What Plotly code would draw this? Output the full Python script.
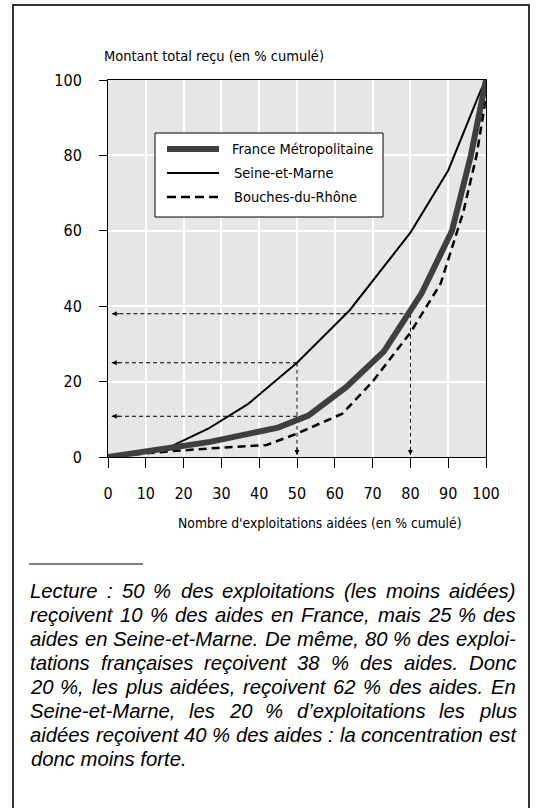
import plotly.graph_objects as go

# ---------------- data ----------------
x_france = [0, 16, 27, 45, 53, 63, 73, 83, 91, 96, 100]
y_france = [0, 2.5, 4, 7.8, 11, 18.5, 28, 43.5, 60, 80, 100]

x_seine = [0, 16, 26.5, 37, 50, 64, 80, 90, 98.5, 100]
y_seine = [0, 2.5, 7.5, 14, 25, 39, 59.5, 76, 97, 100]

x_bdr = [0, 16, 29, 42, 50, 62, 70, 80, 88, 94, 97.5, 99.6, 100]
y_bdr = [0, 1.5, 2.4, 3.2, 6.2, 11.5, 20, 33, 46, 65, 80, 93, 100]

guide_x = [50, 50, 80]
guide_y = [25, 10.8, 38]

series_names = ["France Métropolitaine", "Seine-et-Marne", "Bouches-du-Rhône"]
x_ticks = [0, 10, 20, 30, 40, 50, 60, 70, 80, 90, 100]
y_ticks = [0, 20, 40, 60, 80, 100]

y_title = "Montant total reçu (en % cumulé)"
x_title = "Nombre d'exploitations aidées (en % cumulé)"
caption_lines = [
    "Lecture : 50 % des exploitations (les moins aidées)",
    "reçoivent 10 % des aides en France, mais 25 % des",
    "aides en Seine-et-Marne. De même, 80 % des exploi-",
    "tations françaises reçoivent 38 % des aides. Donc",
    "20 %, les plus aidées, reçoivent 62 % des aides. En",
    "Seine-et-Marne, les 20 % d’exploitations les plus",
    "aidées reçoivent 40 % des aides : la concentration est",
    "donc moins forte.",
]

# ---------------- layout geometry ----------------
W, H = 547, 808
L, Rpx, T, Bpx = 108, 486, 80, 457

def px2x(p):
    return (p - L) / (Rpx - L)

def py2y(p):
    return (Bpx - p) / (Bpx - T)

NARROW = "DejaVu Sans Condensed, Liberation Sans Narrow, Arial Narrow, sans-serif"
ITALIC = "Liberation Sans, Arial, sans-serif"
FR_COLOR = "#3f3f3f"
TITLE_SIZE = 14.5
XTITLE_SIZE = 13.8
TICK_SIZE = 16
CAP_SIZE = 20.3
CAP_LEFT, CAP_RIGHT = 29, 515

# Arial / Liberation Sans advance widths (per 1000 em) for justification
ARIAL_W = {
    " ": 278, "a": 556, "b": 556, "c": 500, "d": 556, "e": 556, "f": 278, "g": 556,
    "h": 556, "i": 222, "j": 222, "k": 500, "l": 222, "m": 833, "n": 556, "o": 556,
    "p": 556, "q": 556, "r": 333, "s": 500, "t": 278, "u": 556, "v": 500, "w": 722,
    "x": 500, "y": 500, "z": 500, "L": 556, "D": 722, "E": 667, "F": 611, "M": 833,
    "S": 667, "%": 889, ":": 278, ".": 278, ",": 278, "-": 333, "’": 222, "(": 333,
    ")": 333, "é": 556, "ê": 556, "ç": 500,
}

def text_w(s, size):
    return sum(ARIAL_W.get(c, 556) for c in s) * size / 1000.0

fig = go.Figure()

# reading guides (dashed)
for gx, gy in zip(guide_x, guide_y):
    fig.add_trace(go.Scatter(x=[gx, 1], y=[gy, gy], mode="lines",
                             line=dict(color="black", width=1, dash="4px,3px"),
                             showlegend=False, hoverinfo="skip"))
for gx, gy in zip([guide_x[0], guide_x[2]], [guide_y[0], guide_y[2]]):
    fig.add_trace(go.Scatter(x=[gx, gx], y=[gy, 0.5], mode="lines",
                             line=dict(color="black", width=1, dash="4px,3px"),
                             showlegend=False, hoverinfo="skip"))

fig.add_trace(go.Scatter(x=x_bdr, y=y_bdr, mode="lines", name=series_names[2],
                         line=dict(color="black", width=2.5, dash="8px,5px"),
                         showlegend=False))
fig.add_trace(go.Scatter(x=x_seine, y=y_seine, mode="lines", name=series_names[1],
                         line=dict(color="black", width=2),
                         showlegend=False))
fig.add_trace(go.Scatter(x=x_france, y=y_france, mode="lines", name=series_names[0],
                         line=dict(color=FR_COLOR, width=6),
                         showlegend=False))

annotations = []
# arrowheads
for gy in guide_y:
    annotations.append(dict(x=1, y=gy, xref="x", yref="y", ax=9, ay=0, text="",
                            showarrow=True, arrowhead=2, arrowsize=1, arrowwidth=1,
                            arrowcolor="black"))
for gx in [guide_x[0], guide_x[2]]:
    annotations.append(dict(x=gx, y=0.5, xref="x", yref="y", ax=0, ay=-9, text="",
                            showarrow=True, arrowhead=2, arrowsize=1, arrowwidth=1,
                            arrowcolor="black"))

annotations.append(dict(text=y_title, x=px2x(102), y=py2y(56), xref="paper", yref="paper",
                        xanchor="left", yanchor="middle", showarrow=False,
                        font=dict(family=NARROW, size=TITLE_SIZE, color="black")))
annotations.append(dict(text=x_title, x=px2x(464), y=py2y(523), xref="paper", yref="paper",
                        xanchor="right", yanchor="middle", showarrow=False,
                        font=dict(family=NARROW, size=XTITLE_SIZE, color="black")))

# caption, justified like the original
for i, line in enumerate(caption_lines):
    ypos = py2y(591 + 24 * i)
    if i == len(caption_lines) - 1:
        annotations.append(dict(text="<i>" + line + "</i>", x=px2x(CAP_LEFT), y=ypos,
                                xref="paper", yref="paper", xanchor="left", yanchor="middle",
                                showarrow=False,
                                font=dict(family=ITALIC, size=CAP_SIZE, color="black")))
        continue
    words = line.split(" ")
    widths = [text_w(w, CAP_SIZE) for w in words]
    gap = (CAP_RIGHT - CAP_LEFT - sum(widths)) / (len(words) - 1)
    xcur = CAP_LEFT
    for w, ww in zip(words, widths):
        annotations.append(dict(text="<i>" + w + "</i>", x=px2x(xcur), y=ypos,
                                xref="paper", yref="paper", xanchor="left", yanchor="middle",
                                showarrow=False, borderpad=0,
                                font=dict(family=ITALIC, size=CAP_SIZE, color="black")))
        xcur += ww + gap

# legend (manual)
leg_rows = [149, 173, 197]
leg_text_x = [230, 232, 232]
for name, ry, tx in zip(series_names, leg_rows, leg_text_x):
    annotations.append(dict(text=name, x=px2x(tx), y=py2y(ry), xref="paper", yref="paper",
                            xanchor="left", yanchor="middle", showarrow=False,
                            font=dict(family=NARROW, size=TITLE_SIZE, color="black")))

shapes = []
# outer frame
shapes.append(dict(type="rect", xref="paper", yref="paper",
                   x0=px2x(13), x1=px2x(529), y0=py2y(830), y1=py2y(5),
                   line=dict(color="#333333", width=2), fillcolor="rgba(0,0,0,0)", layer="below"))
# caption separator
shapes.append(dict(type="line", xref="paper", yref="paper",
                   x0=px2x(29), x1=px2x(143), y0=py2y(564), y1=py2y(564),
                   line=dict(color="black", width=1)))
# legend box
shapes.append(dict(type="rect", xref="paper", yref="paper",
                   x0=px2x(155), x1=px2x(383), y0=py2y(217), y1=py2y(133),
                   line=dict(color="black", width=1), fillcolor="white"))
leg_styles = [dict(color=FR_COLOR, width=6), dict(color="black", width=2),
              dict(color="black", width=2.5, dash="9px,5px")]
for ry, st in zip(leg_rows, leg_styles):
    shapes.append(dict(type="line", xref="paper", yref="paper",
                       x0=px2x(167), x1=px2x(219), y0=py2y(ry), y1=py2y(ry), line=st))

fig.update_layout(
    width=W, height=H,
    margin=dict(l=L, r=W - Rpx, t=T, b=H - Bpx, pad=0),
    paper_bgcolor="white", plot_bgcolor="#e6e6e6",
    showlegend=False,
    annotations=annotations, shapes=shapes,
    font=dict(family=NARROW, size=TICK_SIZE, color="black"),
)
fig.update_xaxes(range=[0, 100], tickvals=x_ticks, showgrid=True, gridcolor="white", gridwidth=2,
                 showline=True, linecolor="black", linewidth=1, mirror=True,
                 ticks="outside", ticklen=10, tickcolor="black", tickwidth=1,
                 ticklabelstandoff=12, zeroline=False,
                 tickfont=dict(family=NARROW, size=TICK_SIZE, color="black"))
fig.update_yaxes(range=[0, 100], tickvals=y_ticks, showgrid=True, gridcolor="white", gridwidth=2,
                 showline=True, linecolor="black", linewidth=1, mirror=True,
                 ticks="outside", ticklen=8, tickcolor="black", tickwidth=1,
                 ticklabelstandoff=14, zeroline=False,
                 tickfont=dict(family=NARROW, size=TICK_SIZE, color="black"))

fig.write_html("out.html", config={"displayModeBar": False, "staticPlot": True},
               post_script="document.body.style.margin='0';")
